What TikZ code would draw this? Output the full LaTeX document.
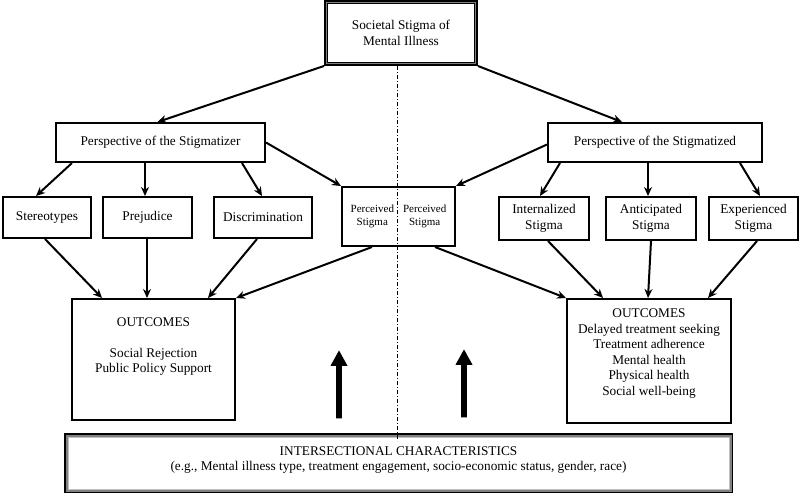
\documentclass[tikz,border=0pt]{standalone}
\usepackage{fontspec}
\setmainfont{Liberation Serif}
\usetikzlibrary{arrows.meta,shapes.arrows}

\begin{document}
\begin{tikzpicture}[
    x=1pt, y=-1pt,
    every node/.style={draw, shape=rectangle, line width=2pt, align=center,
      inner sep=0pt, font=\fontsize{13.3}{16}\selectfont},
    link/.style={line width=2pt, -{Stealth[length=9pt,width=8pt]}},
    uparrow/.style={draw=none, fill=black, single arrow, shape border rotate=90,
      inner sep=1.5pt, minimum width=17, minimum height=68, single arrow head extend=5,
      single arrow tip angle=58}
    ]

    \useasboundingbox (0,0) rectangle (800,493);

    % top
    \path (401,33) node[line width=4pt, minimum width=150, minimum height=62] (soc)
      {Societal Stigma of\\Mental Illness};
    \draw[gray, line width=1pt] ([shift={(2.5,2.5)}]soc.north west)
      rectangle ([shift={(-2.5,-2.5)}]soc.south east);
    \draw[line width=1pt] ([shift={(3.5,3.5)}]soc.north west)
      rectangle ([shift={(-3.5,-3.5)}]soc.south east);

    % perspectives
    \path (160.5,142.5) node[minimum width=209, minimum height=39] (lp)
      {Perspective of the Stigmatizer};
    \path (655,142.5) node[minimum width=214, minimum height=39] (rp)
      {Perspective of the Stigmatized};

    % second row
    \path (47,217.5)    node[minimum width=88, minimum height=41] (ster) {Stereotypes};
    \path (147.5,217.5) node[minimum width=89, minimum height=41] (prej) {Prejudice};
    \path (263,217.5)   node[minimum width=98, minimum height=41] (disc) {Discrimination};
    \path (398.5,216.5) node[minimum width=113, minimum height=59,
        font=\fontsize{11}{12.5}\selectfont] (perc)
      {\begin{tabular}{@{}c@{\hspace{9pt}}c@{}}Perceived & Perceived\\Stigma & Stigma\end{tabular}};
    \path (544,218.5)   node[minimum width=90, minimum height=43] (intl) {Internalized\\Stigma};
    \path (651,218.5)   node[minimum width=90, minimum height=43] (anti) {Anticipated\\Stigma};
    \path (753.5,218.5) node[minimum width=89, minimum height=43] (expe) {Experienced\\Stigma};

    % outcomes
    \path (153.5,359.5) node[minimum width=163, minimum height=121, text depth=29,
        font=\fontsize{13.3}{15.5}\selectfont] (lout)
      {OUTCOMES\\[15.5pt]Social Rejection\\Public Policy Support};
    \path (649,361) node[minimum width=164, minimum height=124, text depth=18,
        font=\fontsize{13.3}{15.6}\selectfont] (rout)
      {OUTCOMES\\Delayed treatment seeking\\Treatment adherence\\Mental health\\Physical health\\Social well-being};

    % bottom
    \path (398.5,463) node[line width=3pt, minimum width=666, minimum height=57, text depth=9,
        font=\fontsize{13.3}{15.5}\selectfont] (inter)
      {INTERSECTIONAL CHARACTERISTICS\\(e.g., Mental illness type, treatment engagement, socio-economic status, gender, race)};
    \draw[gray, line width=2pt] ([shift={(2.5,2.5)}]inter.north west)
      rectangle ([shift={(-2.5,-2.5)}]inter.south east);
    \draw[black!25, line width=0.5pt] ([shift={(4,4)}]inter.north west)
      rectangle ([shift={(-4,-4)}]inter.south east);

    \path (339,387) node[uparrow] (upl) {};
    \path (464,386) node[uparrow] (upr) {};

    % divider
    \draw[line width=0.8pt, dash pattern=on 4pt off 2pt on 1pt off 2pt]
      ([shift={(-3.5,0)}]soc.south) -- ([shift={(-1,8)}]inter.north);

    % connectors
    \draw[link] (soc.south west) -- ([shift={(-3,0)}]lp.north);
    \draw[link] (soc.south east) -- ([shift={(-33,0)}]rp.north);

    \foreach \n/\a/\b in {ster/-88.5/-11, prej/-15.5/-2.5, disc/81.5/-1}
      \draw[link] ([shift={(\a,0)}]lp.south) -- ([shift={(\b,0)}]\n.north);
    \draw[link] (lp.east) -- (perc.north west);

    \foreach \n/\a/\b in {intl/-95/-4, anti/-7/-3, expe/85/6.5}
      \draw[link] ([shift={(\a,0)}]rp.south) -- ([shift={(\b,0)}]\n.north);
    \draw[link] ([shift={(0,2)}]rp.west) -- (perc.north east);

    \foreach \n/\a/\b in {ster/-2/-51.5, prej/-0.5/-6.5, disc/-6/54.5}
      \draw[link] ([shift={(\a,0)}]\n.south) -- ([shift={(\b,0)}]lout.north);
    \draw[link] ([shift={(-26.5,0)}]perc.south) -- (lout.north east);

    \foreach \n/\a/\b in {intl/4/-46, anti/0/-1, expe/3.5/59}
      \draw[link] ([shift={(\a,0)}]\n.south) -- ([shift={(\b,0)}]rout.north);
    \draw[link] ([shift={(36.5,0)}]perc.south) -- (rout.north west);

\end{tikzpicture}
\end{document}
